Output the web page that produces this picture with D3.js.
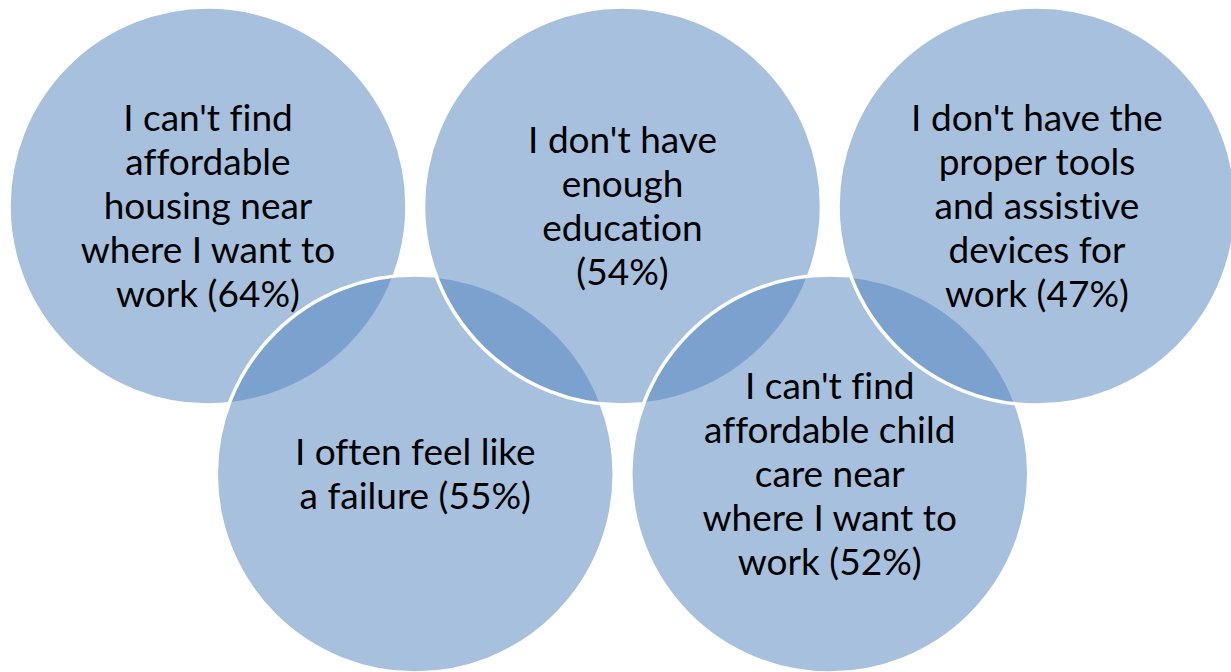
<!DOCTYPE html>
<html>
<head>
<meta charset="utf-8">
<script src="https://cdn.jsdelivr.net/npm/d3@7"></script>
<style>
  html, body { margin: 0; padding: 0; background: #ffffff; }
  svg { display: block; }
  .labels text { font-variant-ligatures: none; font-feature-settings: "liga" 0, "dlig" 0; }
</style>
</head>
<body>
<div id="chart"></div>
<script>
// Barriers to work, share of respondents (%)
const categories = [
  ["I can't find", "affordable", "housing near", "where I want to", "work"],
  ["I often feel like", "a failure"],
  ["I don't have", "enough", "education", ""],
  ["I can't find", "affordable child", "care near", "where I want to", "work"],
  ["I don't have the", "proper tools", "and assistive", "devices for", "work"]
];
const values = [64, 55, 54, 52, 47];

const width = 1231, height = 672;
const radius = 199;
const lineHeight = 44;
const capShift = 13;

const svg = d3.select("#chart").append("svg")
  .attr("width", width)
  .attr("height", height);

// Circles alternate between an upper and a lower row, stepping half a column each time
const items = categories.map((lines, i) => {
  const last = lines[lines.length - 1];
  const suffix = `(${values[i]}%)`;
  const text = lines.slice(0, -1).concat(last ? `${last} ${suffix}` : suffix);
  return { index: i, lines: text, value: values[i], row: i % 2 };
});

const x = d3.scaleLinear().domain([0, categories.length - 1]).range([208, 1037]);
const y = d3.scalePoint().domain([0, 1]).range([206, 474]);

const circles = svg.append("g").attr("class", "circles");
circles.selectAll("circle")
  .data(items)
  .join("circle")
  .attr("cx", d => x(d.index))
  .attr("cy", d => y(d.row))
  .attr("r", radius)
  .attr("fill", "#4F81BD")
  .attr("fill-opacity", 0.5)
  .attr("stroke", "#ffffff")
  .attr("stroke-width", 3.5);

const labels = svg.append("g").attr("class", "labels")
  .attr("font-family", "Lato, 'Open Sans', sans-serif")
  .attr("font-size", 37)
  .attr("fill", "#000000")
  .attr("text-anchor", "middle");

labels.selectAll("text")
  .data(items)
  .join("text")
  .each(function(d) {
    const t = d3.select(this);
    const n = d.lines.length;
    d.lines.forEach((line, j) => {
      t.append("tspan")
        .attr("x", x(d.index))
        .attr("y", y(d.row) + (j - (n - 1) / 2) * lineHeight + capShift)
        .text(line);
    });
  });
</script>
</body>
</html>
